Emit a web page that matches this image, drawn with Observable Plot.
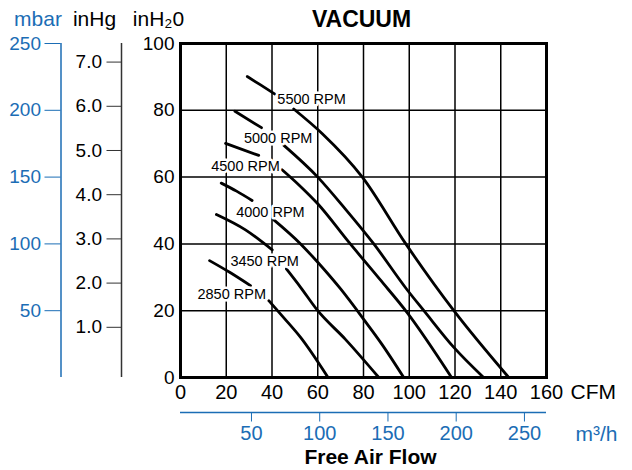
<!DOCTYPE html>
<html><head><meta charset="utf-8">
<script src="https://cdn.jsdelivr.net/npm/d3@7"></script>
<script src="https://cdn.jsdelivr.net/npm/@observablehq/plot@0.6"></script>
<style>
body{margin:0;background:#fff;}
#chart{position:relative;width:632px;height:470px;}
#chart svg{position:absolute;left:0;top:0;background:transparent;}
</style></head><body><div id="chart"></div>
<script>
// ---- data ----
const cfmTicks = [0,20,40,60,80,100,120,140,160];
const inH2OTicks = [0,20,40,60,80,100];
const inHgTicks = [1,2,3,4,5,6,7];
const mbarTicks = [50,100,150,200,250];
const m3hTicks = [50,100,150,200,250];

const rpmNames = ["5500 RPM","5000 RPM","4500 RPM","4000 RPM","3450 RPM","2850 RPM"];
// CFM / inH2O; null = break where the label sits
const cfm5500 = [29.2,35,41.1,null,49.5,62,79.5,98.5,119.5,143.5];
const vac5500 = [90.1,87.6,84.9,null,80.4,73,60,40,20,0];
const cfm5000 = [23.8,35.4,null,45.2,60,72,84.5,98.8,106.4,119.5,132.5];
const vac5000 = [79.7,74.8,null,69.5,60,50.5,40,26.5,20,9,0];
const cfm4500 = [19.7,34.2,null,44.4,52,60,73.6,87,99,118.5];
const vac4500 = [70.1,66.5,null,62.2,57.5,52,40.5,29.5,19.5,0];
const cfm4000 = [17.8,24.5,31.3,null,40.8,52.5,60,70,80,88,97.6];
const vac4000 = [58.2,55.8,53,null,47.2,40,34.5,26.5,17.5,10,0];
const cfm3450 = [15.7,28.4,40.1,null,46.3,52.5,60,72,86.7];
const vac3450 = [48.8,44.2,38.2,null,32.5,27,20,11.5,0];
const cfm2850 = [12.7,21.5,30.6,null,38.6,45,52.5,64.5];
const vac2850 = [35,31.5,27.5,null,23,18,12,0];
const labelCfm = [57.3,42.7,28.4,39.3,36.8,22.4];
const labelVac = [83.2,71.7,63.2,49.5,34.8,24.8];

// scale relations as drawn on the chart
const MBAR_PER_INH2O = 2.5;
const INH2O_PER_INHG = 13.234, INHG_ZERO_AT_INH2O = 1.796;
const M3H_PER_CFM = 1.676, M3H_AT_CFM0 = -2;

// ---- styles ----
const BLUE = "#1b6db5";
const NARROW = "'Liberation Sans Narrow','Arial Narrow','Liberation Sans',Arial,sans-serif";
const SANS = "'Liberation Sans',Arial,Helvetica,sans-serif";
const W = 632, H = 470, MT = 43, MB = 93, ML = 180, MR = 86;

const series = [[cfm5500,vac5500],[cfm5000,vac5000],[cfm4500,vac4500],[cfm4000,vac4000],[cfm3450,vac3450],[cfm2850,vac2850]];
const rows = series.flatMap(([c,v],i)=>c.map((x,j)=>({rpm:rpmNames[i], cfm:x, vac:v[j]})));
const labels = rpmNames.map((t,i)=>({text:t, cfm:labelCfm[i], vac:labelVac[i]}));
const yDom = [inH2OTicks[0], inH2OTicks[inH2OTicks.length-1]];

const chart = document.getElementById("chart");

const main = Plot.plot({
  width: W, height: H, marginTop: MT, marginBottom: MB, marginLeft: ML, marginRight: MR,
  style: {background:"transparent", fontFamily: NARROW, fontSize:"19px", color:"#000"},
  x: {domain:[0,160], label:null},
  y: {domain: yDom, label:null},
  marks: [
    Plot.gridX(cfmTicks.slice(1,-1), {stroke:"#000", strokeOpacity:1, strokeWidth:1.5}),
    Plot.gridY(inH2OTicks.slice(1,-1), {stroke:"#000", strokeOpacity:1, strokeWidth:1.5}),
    Plot.line(rows, {x:"cfm", y:"vac", z:"rpm", stroke:"#000", strokeWidth:2.8, curve:"monotone-x"}),
    Plot.text(labels, {x:"cfm", y:"vac", text:"text", fontFamily:SANS, fontSize:14.5, fill:"#000", stroke:"#fff", strokeWidth:5}),
    Plot.frame({stroke:"#000", strokeWidth:3}),
    Plot.axisX({ticks:cfmTicks, tickSize:0, tickPadding:7, fontSize:20, label:null}),
    Plot.axisY({ticks:inH2OTicks, tickSize:0, tickPadding:6, label:null}),
    Plot.text(["VACUUM"], {text:d=>d, frameAnchor:"top", dx:-2, dy:-24, lineAnchor:"middle", fontFamily:SANS, fontWeight:"bold", fontSize:23}),
    Plot.text(["inH\u20820"], {text:d=>d, frameAnchor:"top-left", dx:-22, dy:-24, lineAnchor:"middle", textAnchor:"middle", fontFamily:SANS, fontSize:21}),
    Plot.text(["CFM"], {text:d=>d, frameAnchor:"bottom-right", dx:24, dy:15, lineAnchor:"middle", textAnchor:"start", fontFamily:SANS, fontSize:21})
  ]
});
chart.appendChild(main);

// inHg axis
const inHg = Plot.plot({
  width: W, height: H, marginTop: MT, marginBottom: MB, marginLeft: 121, marginRight: W-121-40,
  style: {background:"transparent", fontFamily: NARROW, fontSize:"19px", color:"#000"},
  x: {domain:[0,1], axis:null},
  y: {domain: yDom.map(h=>(h-INHG_ZERO_AT_INH2O)/INH2O_PER_INHG), label:null},
  marks: [
    Plot.ruleX([0], {stroke:"#333", strokeWidth:1.5}),
    Plot.axisY({ticks:inHgTicks, tickFormat:d=>d.toFixed(1), tickSize:14.5, tickPadding:5, stroke:"#333", label:null}),
    Plot.text(["inHg"], {text:d=>d, frameAnchor:"top-left", dx:-27, dy:-24, lineAnchor:"middle", textAnchor:"middle", fontFamily:SANS, fontSize:21, fill:"#000"})
  ]
});
chart.appendChild(inHg);

// mbar axis
const mbar = Plot.plot({
  width: W, height: H, marginTop: MT, marginBottom: MB, marginLeft: 60.5, marginRight: W-61-40,
  style: {background:"transparent", fontFamily: NARROW, fontSize:"19px", color:BLUE},
  x: {domain:[0,1], axis:null},
  y: {domain: yDom.map(h=>h*MBAR_PER_INH2O), label:null},
  marks: [
    Plot.ruleX([0], {stroke:BLUE, strokeWidth:1.5}),
    Plot.axisY({ticks:mbarTicks, tickSize:16, tickPadding:4, label:null}),
    Plot.text(["mbar"], {text:d=>d, frameAnchor:"top-left", dx:-23, dy:-24, lineAnchor:"middle", textAnchor:"middle", fontFamily:SANS, fontSize:21, fill:BLUE})
  ]
});
chart.appendChild(mbar);

// m3/h axis
const m3h = Plot.plot({
  width: W, height: H, marginTop: 0, marginBottom: 58, marginLeft: ML, marginRight: MR,
  style: {background:"transparent", fontFamily: NARROW, fontSize:"20px", color:BLUE},
  x: {domain:[0,160].map(c=>M3H_AT_CFM0 + c*M3H_PER_CFM), label:null},
  y: {domain:[0,1], axis:null},
  marks: [
    Plot.ruleY([0], {stroke:BLUE, strokeWidth:1.5}),
    Plot.axisX({ticks:m3hTicks, tickSize:9.5, tickPadding:3.5, label:null}),
    Plot.text(["m\u00B3/h"], {text:d=>d, frameAnchor:"bottom-right", dx:29, dy:22, lineAnchor:"middle", textAnchor:"start", fontFamily:SANS, fontSize:21, fill:BLUE}),
    Plot.text(["Free Air Flow"], {text:d=>d, frameAnchor:"bottom", dx:7, dy:45, lineAnchor:"middle", fontFamily:SANS, fontWeight:"bold", fontSize:21, fill:"#000"})
  ]
});
chart.appendChild(m3h);
</script></body></html>
